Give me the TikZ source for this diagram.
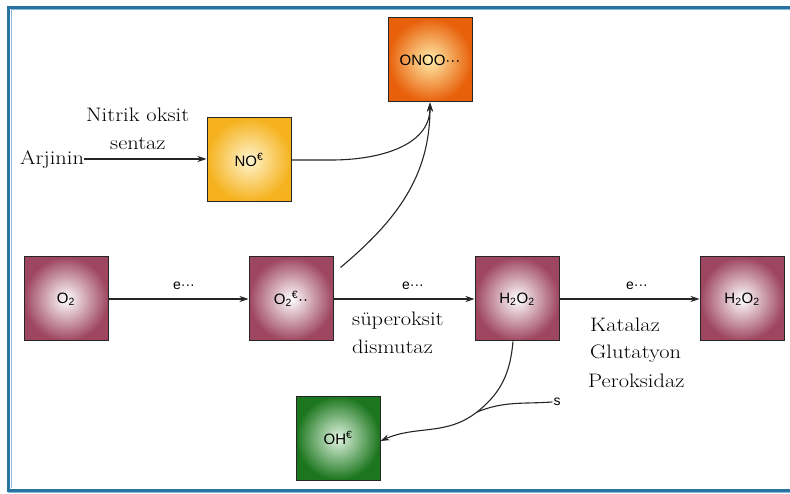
\documentclass[tikz,border=0pt]{standalone}
\usepackage{fontspec}
\usepackage{tikz}
\usetikzlibrary{arrows.meta}
\newfontfamily\boxfont{Liberation Sans}
\newfontfamily\lblfont{Latin Modern Roman}[FakeStretch=1.15]

\definecolor{framecol}{RGB}{40,115,160}
\definecolor{framelight}{RGB}{140,185,215}
\definecolor{rosecol}{RGB}{158,70,96}
\definecolor{orangecol}{RGB}{232,96,10}
\definecolor{ambercol}{RGB}{245,178,30}
\definecolor{greencol}{RGB}{28,118,30}

\tikzset{
  mol/.style={draw=black!85, line width=1pt, minimum size=84pt, inner sep=0pt,
    font=\boxfont\fontsize{15}{17}\selectfont},
  rosebox/.style={mol, inner color=white, outer color=rosecol},
  orangebox/.style={mol, inner color={rgb,255:red,255;green,236;blue,170}, outer color=orangecol},
  amberbox/.style={mol, inner color={rgb,255:red,255;green,244;blue,205}, outer color=ambercol},
  greenbox/.style={mol, inner color={rgb,255:red,225;green,245;blue,225}, outer color=greencol},
  lbl/.style={font=\lblfont\fontsize{19.5}{21}\selectfont, inner sep=0pt, anchor=base west},
  elbl/.style={font=\boxfont\fontsize{14}{16}\selectfont, inner sep=1pt},
  conn/.style={->, >={Stealth[length=9pt,width=6pt]}, line width=1.1pt, black!85}
}

\begin{document}
\begin{tikzpicture}[x=1pt,y=1pt]
  \useasboundingbox (0,0) rectangle (790,-494);
  % frame
  \draw [framecol, line width=3pt] (790,-7.5) -- (8.5,-7.5) -- (8.5,-490) -- (790,-490);
  \draw [framelight, line width=1pt] (790,-10) -- (11,-10);
  \draw [framelight, line width=1pt] (11,-10) -- (11,-488);
  \draw [framelight, line width=1pt] (8,-492.5) -- (790,-492.5);

  % boxes
  \node [orangebox] (onoo) at (430,-60) {ONOO···};
  \node [amberbox] (no) at (249,-160) {NO\textsuperscript{€}};
  \node [rosebox] (o2) at (66,-299) {O\textsubscript{2}};
  \node [rosebox] (o2r) at (291,-299) {O\textsubscript{2}\textsuperscript{€}··};
  \node [rosebox] (hpa) at (517,-299) {H\textsubscript{2}O\textsubscript{2}};
  \node [rosebox] (hpb) at (742,-299) {H\textsubscript{2}O\textsubscript{2}};
  \node [greenbox] (oh) at (338,-438) {OH\textsuperscript{€}};

  % texts
  \node [lbl] (arj) at (20,-165) {Arjinin};
  \node [lbl] (nos1) at (86,-122) {Nitrik oksit};
  \node [lbl] (nos2) at (110,-150) {sentaz};
  \node [elbl] (e1) at (184,-286) {e···};
  \node [elbl] (e2) at (413,-286) {e···};
  \node [elbl] (e3) at (637,-286) {e···};
  \node [lbl] (sod1) at (352,-326) {süperoksit};
  \node [lbl] (sod2) at (352,-353) {dismutaz};
  \node [lbl] (kat1) at (590,-331) {Katalaz};
  \node [lbl] (kat2) at (590,-359) {Glutatyon};
  \node [lbl] (kat3) at (588,-388) {Peroksidaz};
  \node [elbl] (s) at (557,-402) {s};
  \coordinate (j) at (477,-412);

  % connectors
  \draw [conn] ([yshift=6pt]arj.base east) -- ([yshift=6pt]arj.base east -| no.west);
  \draw [conn] (o2.east) -- (o2r.west);
  \draw [conn] (o2r.east) -- (hpa.west);
  \draw [conn] (hpa.east) -- (hpb.west);
  \draw [conn] (no.east) -- ++(40,0) to [out=0, in=-90] (onoo.south);
  \draw [conn] ([shift={(7,-11)}]o2r.north east) to [out=40, in=-90] (onoo.south);
  \draw [conn] ([xshift=-4pt]hpa.south) to [out=-95, in=38] (j)
    to [out=218, in=24] ([yshift=-3pt]oh.east);
  \draw [line width=1.1pt, black!85] (s.west) to [out=184, in=22] (j);
\end{tikzpicture}
\end{document}
